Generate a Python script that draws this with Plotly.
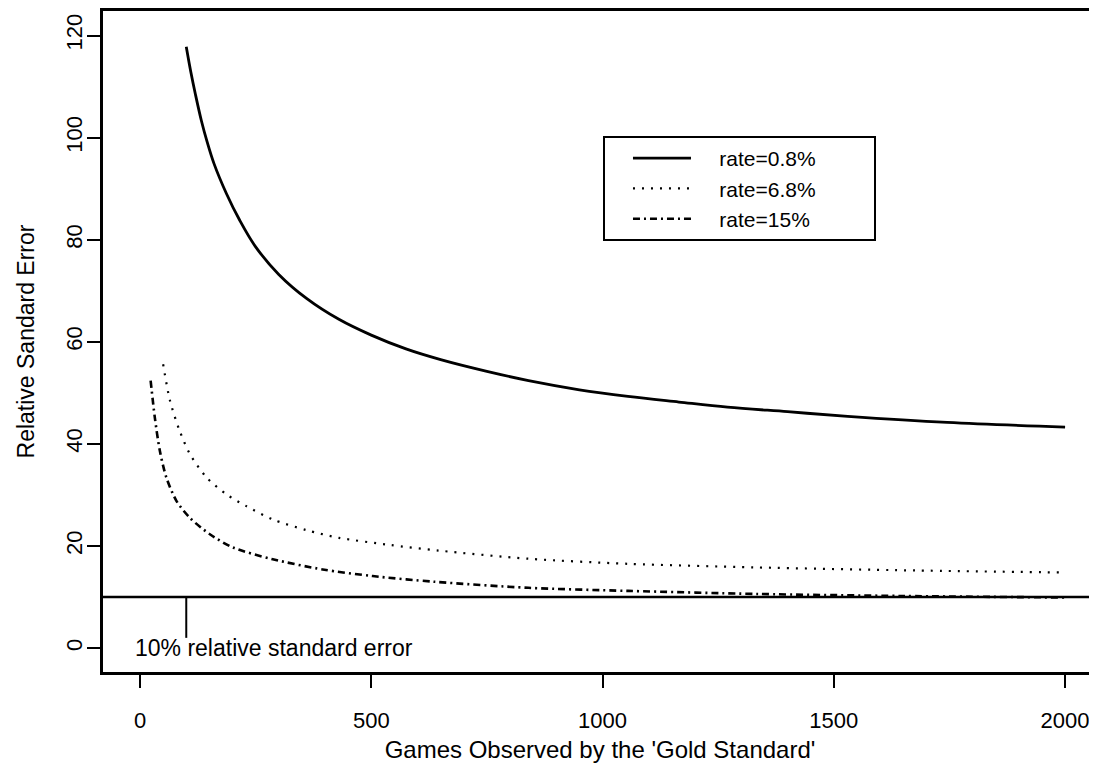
import plotly.graph_objects as go

# ---- data ----
games_08 = [100, 110, 120, 133, 145, 160, 187, 215, 250, 300, 360, 430, 500, 575, 650, 750, 840, 950, 1055, 1165, 1270, 1400, 1530, 1745, 2000]
rse_08 = [117.8, 112.8, 108.4, 103.2, 99.2, 94.9, 89.0, 83.9, 78.6, 73.2, 68.5, 64.4, 61.3, 58.6, 56.5, 54.2, 52.4, 50.6, 49.3, 48.2, 47.2, 46.3, 45.4, 44.2, 43.3]

games_68 = [50, 65, 86, 108, 144, 187, 230, 287, 360, 430, 540, 645, 840, 1055, 1330, 1675, 2000]
rse_68 = [55.6, 48.4, 42.5, 38.0, 33.4, 30.1, 27.8, 25.2, 23.1, 21.6, 20.2, 19.1, 17.5, 16.5, 15.8, 15.2, 14.8]

games_15 = [23, 32, 43, 57, 79, 108, 151, 201, 287, 395, 503, 635, 840, 1055, 1335, 1650, 2000]
rse_15 = [52.4, 45.2, 38.6, 33.4, 28.8, 25.5, 22.3, 19.7, 17.4, 15.4, 14.1, 13.0, 11.8, 11.2, 10.6, 10.2, 9.9]

series_names = ["rate=0.8%", "rate=6.8%", "rate=15%"]

threshold = 10            # 10% relative standard error line
marker_x = 100            # pointer segment position
marker_y_end = 2          # pointer segment lower end
label_text = "10% relative standard error"
label_x = -15
label_y = 0

x_ticks = [0, 500, 1000, 1500, 2000]
y_ticks = [0, 20, 40, 60, 80, 100, 120]

FONT = "Liberation Sans, Arial, Helvetica, sans-serif"
PAD_L = "\u00a0" * 4
PAD_R = "\u00a0" * 9

fig = go.Figure()
fig.add_trace(go.Scatter(x=games_08, y=rse_08, mode="lines", name=PAD_L + series_names[0] + PAD_R,
                         line=dict(color="black", width=2.8, shape="spline", smoothing=1.0)))
fig.add_trace(go.Scatter(x=games_68, y=rse_68, mode="lines", name=PAD_L + series_names[1] + PAD_R,
                         line=dict(color="black", width=2.2, dash="2px,7px", shape="spline", smoothing=0.8)))
fig.add_trace(go.Scatter(x=games_15, y=rse_15, mode="lines", name=PAD_L + series_names[2] + PAD_R,
                         line=dict(color="black", width=2.6, dash="7px,4px,2px,4px", shape="spline", smoothing=0.8)))

fig.add_shape(type="line", xref="paper", x0=0, x1=1, yref="y", y0=threshold, y1=threshold,
              line=dict(color="black", width=2.5))
fig.add_shape(type="line", xref="x", x0=marker_x, x1=marker_x, yref="y", y0=threshold, y1=marker_y_end,
              line=dict(color="black", width=2))
fig.add_annotation(x=label_x, y=label_y, text=label_text, showarrow=False, xanchor="left", yanchor="middle",
                   font=dict(family=FONT, size=23, color="black"))

fig.update_layout(
    width=1089, height=758,
    margin=dict(l=95, r=0, t=1, b=94),
    paper_bgcolor="white", plot_bgcolor="white",
    font=dict(family=FONT, size=22, color="black"),
    showlegend=True,
    legend=dict(x=0.503, y=0.811, xanchor="left", yanchor="top",
                bordercolor="black", borderwidth=2, bgcolor="white",
                font=dict(family=FONT, size=21, color="black"),
                itemwidth=58, indentation=23, tracegroupgap=0),
    xaxis=dict(range=[-80, 2069], tickvals=x_ticks, ticks="outside", ticklen=13, tickwidth=2,
               tickcolor="black", showline=True, linewidth=2.5, linecolor="black", mirror=True,
               showgrid=False, zeroline=False, ticklabelstandoff=14,
               title=dict(text="Games Observed by the 'Gold Standard'", standoff=10,
                          font=dict(family=FONT, size=24))),
    yaxis=dict(range=[-4.69, 124.8], tickvals=y_ticks, ticks="outside", ticklen=13, tickwidth=2,
               tickcolor="black", showline=True, linewidth=2.5, linecolor="black", mirror=False,
               showgrid=False, zeroline=False, tickangle=-90, ticklabelstandoff=-4,
               title=dict(text="Relative Sandard Error", standoff=22,
                          font=dict(family=FONT, size=23))),
)

fig.write_html("out.html")
